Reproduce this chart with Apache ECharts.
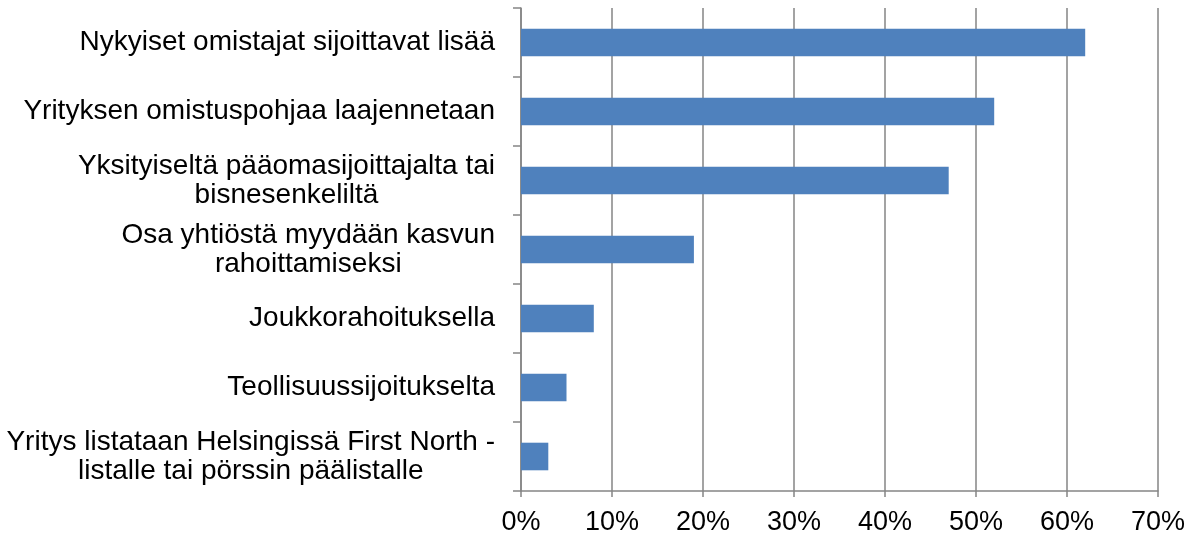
<!DOCTYPE html>
<html>
<head>
<meta charset="utf-8">
<script src="https://cdn.jsdelivr.net/npm/echarts@6/dist/echarts.min.js"></script>
<style>
html,body{margin:0;padding:0;background:#fff;}
#chart{width:1194px;height:539px;}
</style>
</head>
<body>
<div id="chart"></div>
<script>
const categories = [
  "Nykyiset omistajat sijoittavat lisää",
  "Yrityksen omistuspohjaa laajennetaan",
  "Yksityiseltä pääomasijoittajalta tai\nbisnesenkeliltä",
  "Osa yhtiöstä myydään kasvun\nrahoittamiseksi",
  "Joukkorahoituksella",
  "Teollisuussijoitukselta",
  "Yritys listataan Helsingissä First North -\nlistalle tai pörssin päälistalle"
];
const values = [62, 52, 47, 19, 8, 5, 3];
const xTickMax = 70;
const xTickStep = 10;

const chart = echarts.init(document.getElementById('chart'), null, {renderer: 'canvas'});
const FONT = '"Liberation Sans", Arial, sans-serif';
chart.setOption({
  animation: false,
  backgroundColor: '#ffffff',
  grid: {left: 521, right: 36, top: 8, bottom: 48, containLabel: false},
  xAxis: {
    type: 'value',
    min: 0,
    max: xTickMax,
    interval: xTickStep,
    axisLine: {show: true, lineStyle: {color: '#858585', width: 1.5}},
    axisTick: {show: true, length: 6, lineStyle: {color: '#858585', width: 1.5}},
    splitLine: {show: true, lineStyle: {color: '#858585', width: 1.5}},
    axisLabel: {
      formatter: '{value}%',
      color: '#000000',
      fontFamily: FONT,
      fontSize: 27,
      margin: 18
    }
  },
  yAxis: {
    type: 'category',
    data: categories,
    inverse: true,
    axisLine: {show: true, lineStyle: {color: '#858585', width: 1.5}},
    axisTick: {show: true, length: 8, lineStyle: {color: '#858585', width: 1.5}},
    splitLine: {show: false},
    axisLabel: {
      interval: 0,
      margin: 26,
      color: '#000000',
      fontFamily: FONT,
      fontSize: 28,
      lineHeight: 29,
      formatter: function (v) {
        return v.split('\n').map(function (l) { return '{c|' + l + '}'; }).join('\n');
      },
      rich: {
        c: {align: 'center', color: '#000000', fontFamily: FONT, fontSize: 28, lineHeight: 29}
      }
    }
  },
  series: [{
    type: 'bar',
    data: values,
    barCategoryGap: '60%',
    itemStyle: {color: '#4F81BD'}
  }]
});
</script>
</body>
</html>
